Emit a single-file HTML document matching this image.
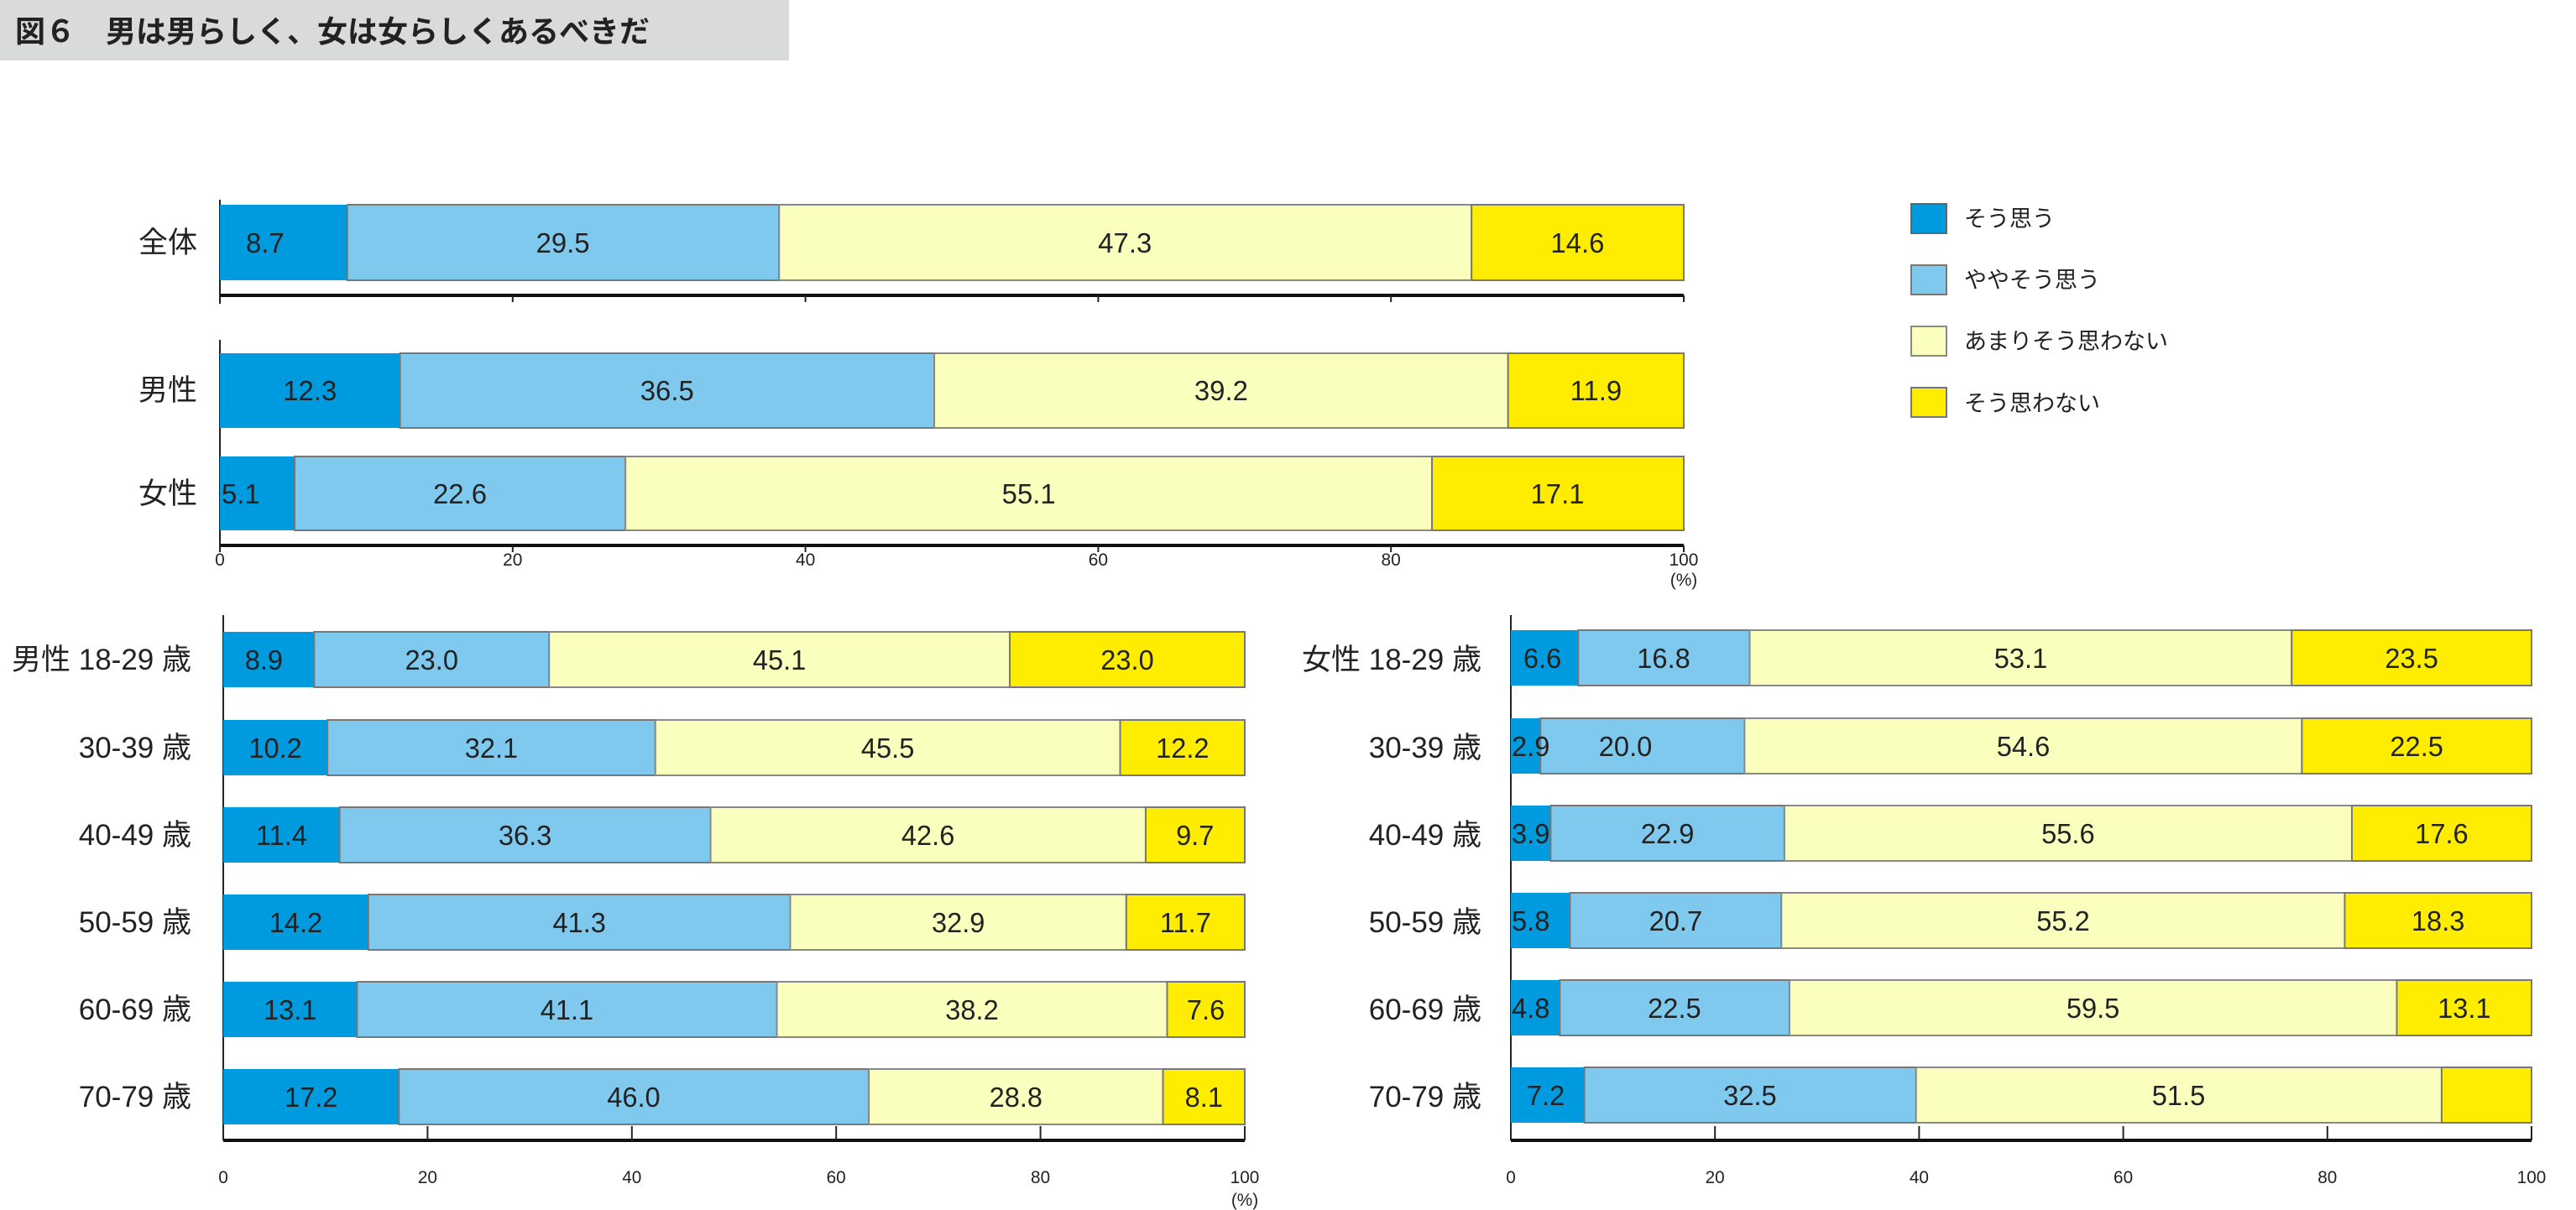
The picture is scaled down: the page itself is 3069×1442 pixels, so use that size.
<!DOCTYPE html>
<html><head><meta charset="utf-8"><style>
html,body{margin:0;padding:0;background:#fff;}
svg{display:block;font-family:"Liberation Sans","Noto Sans CJK JP",sans-serif;}
.v{font-size:33px;fill:#222;text-anchor:middle;}
.l{font-size:33px;fill:#222;text-anchor:start;}
.r{font-size:35px;fill:#222;text-anchor:end;}
.t{font-size:21px;fill:#222;text-anchor:middle;}
.g{font-size:27px;fill:#222;}
.b1{fill:#009ADE;}.b2{fill:#7FC8EE;stroke:#777;stroke-width:2;}.b3{fill:#FAFFBE;stroke:#888;stroke-width:2;}.b4{fill:#FFED00;stroke:#777;stroke-width:2;}
</style></head><body>
<svg width="3069" height="1442" viewBox="0 0 3069 1442" xmlns="http://www.w3.org/2000/svg">
<rect x="0" y="0" width="940" height="72" fill="#d9dada"/>
<text x="18" y="50" font-size="36" font-weight="bold" fill="#222">図６　男は男らしく、女は女らしくあるべきだ</text>

<!-- legend -->
<rect x="2277" y="243" width="42" height="35" class="b1" stroke="#666" stroke-width="2"/>
<rect x="2277" y="316" width="42" height="35" class="b2"/>
<rect x="2277" y="389" width="42" height="35" class="b3"/>
<rect x="2277" y="462" width="42" height="35" class="b4"/>
<text x="2340" y="270" class="g">そう思う</text>
<text x="2340" y="343" class="g">ややそう思う</text>
<text x="2340" y="416" class="g">あまりそう思わない</text>
<text x="2340" y="490" class="g">そう思わない</text>

<text x="235" y="301" class="r">全体</text>
<text x="235" y="477" class="r">男性</text>
<text x="235" y="600" class="r">女性</text>

<!-- top chart -->
<g transform="translate(262,0) scale(0.99657,1) translate(-264,0)">
<line x1="264" y1="238" x2="264" y2="362" stroke="#222" stroke-width="2"/>
<line x1="264" y1="405" x2="264" y2="650" stroke="#222" stroke-width="2"/>
<line x1="264" y1="352" x2="2014" y2="352" stroke="#111" stroke-width="4"/>
<line x1="264" y1="650" x2="2014" y2="650" stroke="#111" stroke-width="4"/>
<g stroke="#222" stroke-width="2">
<line x1="614" y1="352" x2="614" y2="360"/><line x1="964" y1="352" x2="964" y2="360"/><line x1="1314" y1="352" x2="1314" y2="360"/><line x1="1664" y1="352" x2="1664" y2="360"/><line x1="2014" y1="352" x2="2014" y2="360"/>
<line x1="264" y1="650" x2="264" y2="658"/><line x1="614" y1="650" x2="614" y2="658"/><line x1="964" y1="650" x2="964" y2="658"/><line x1="1314" y1="650" x2="1314" y2="658"/><line x1="1664" y1="650" x2="1664" y2="658"/><line x1="2014" y1="650" x2="2014" y2="658"/>
</g>
<text x="264" y="674" class="t">0</text><text x="614" y="674" class="t">20</text><text x="964" y="674" class="t">40</text><text x="1314" y="674" class="t">60</text><text x="1664" y="674" class="t">80</text><text x="2014" y="674" class="t">100</text>
<text x="2014" y="698" class="t" font-size="18">(%)</text>

<rect x="264" y="244" width="152.3" height="90" class="b1"/><rect x="416.3" y="244" width="516.2" height="90" class="b2"/><rect x="932.5" y="244" width="827.8" height="90" class="b3"/><rect x="1760.3" y="244" width="253.7" height="90" class="b4"/>
<text x="318" y="301" class="v">8.7</text><text x="674" y="301" class="v">29.5</text><text x="1346" y="301" class="v">47.3</text><text x="1887" y="301" class="v">14.6</text>

<rect x="264" y="421" width="215.3" height="89" class="b1"/><rect x="479.3" y="421" width="638.7" height="89" class="b2"/><rect x="1118" y="421" width="686" height="89" class="b3"/><rect x="1804" y="421" width="210" height="89" class="b4"/>
<text x="371.6" y="477" class="v">12.3</text><text x="798.6" y="477" class="v">36.5</text><text x="1461" y="477" class="v">39.2</text><text x="1909" y="477" class="v">11.9</text>

<rect x="264" y="544" width="89.3" height="88" class="b1"/><rect x="353.3" y="544" width="395.5" height="88" class="b2"/><rect x="748.8" y="544" width="964.2" height="88" class="b3"/><rect x="1713" y="544" width="301" height="88" class="b4"/>
<text x="266" y="600" class="l">5.1</text><text x="551" y="600" class="v">22.6</text><text x="1231" y="600" class="v">55.1</text><text x="1863" y="600" class="v">17.1</text>
</g>

<!-- bottom left -->
<text x="228" y="798" class="r">男性 18-29 歳</text>
<text x="228" y="903" class="r">30-39 歳</text>
<text x="228" y="1007" class="r">40-49 歳</text>
<text x="228" y="1111" class="r">50-59 歳</text>
<text x="228" y="1215" class="r">60-69 歳</text>
<text x="228" y="1319" class="r">70-79 歳</text>
<g transform="translate(266,0) scale(0.98782,1) translate(-269,0)">
<line x1="269" y1="733" x2="269" y2="1359" stroke="#222" stroke-width="2"/>
<line x1="269" y1="1359" x2="1501" y2="1359" stroke="#111" stroke-width="4"/>
<g stroke="#222" stroke-width="2">
<line x1="515.4" y1="1342" x2="515.4" y2="1359"/><line x1="761.8" y1="1342" x2="761.8" y2="1359"/><line x1="1008.2" y1="1342" x2="1008.2" y2="1359"/><line x1="1254.6" y1="1342" x2="1254.6" y2="1359"/><line x1="1501" y1="1342" x2="1501" y2="1359"/>
</g>
<text x="269" y="1410" class="t">0</text><text x="515.4" y="1410" class="t">20</text><text x="761.8" y="1410" class="t">40</text><text x="1008.2" y="1410" class="t">60</text><text x="1254.6" y="1410" class="t">80</text><text x="1501" y="1410" class="t">100</text>
<text x="1501" y="1437" class="t" font-size="18">(%)</text>

<rect x="269" y="753" width="109.6" height="66" class="b1"/><rect x="378.6" y="753" width="283.4" height="66" class="b2"/><rect x="662" y="753" width="555.6" height="66" class="b3"/><rect x="1217.6" y="753" width="283.4" height="66" class="b4"/>
<text x="318" y="798" class="v">8.9</text><text x="520.3" y="798" class="v">23.0</text><text x="939.8" y="798" class="v">45.1</text><text x="1359.3" y="798" class="v">23.0</text>

<rect x="269" y="858" width="125.7" height="66" class="b1"/><rect x="394.7" y="858" width="395.4" height="66" class="b2"/><rect x="790.1" y="858" width="560.6" height="66" class="b3"/><rect x="1350.7" y="858" width="150.3" height="66" class="b4"/>
<text x="331.8" y="903" class="v">10.2</text><text x="592.4" y="903" class="v">32.1</text><text x="1070.4" y="903" class="v">45.5</text><text x="1425.9" y="903" class="v">12.2</text>

<rect x="269" y="962" width="140.4" height="66" class="b1"/><rect x="409.4" y="962" width="447.3" height="66" class="b2"/><rect x="856.7" y="962" width="524.8" height="66" class="b3"/><rect x="1381.5" y="962" width="119.5" height="66" class="b4"/>
<text x="339.2" y="1007" class="v">11.4</text><text x="633" y="1007" class="v">36.3</text><text x="1119" y="1007" class="v">42.6</text><text x="1441" y="1007" class="v">9.7</text>

<rect x="269" y="1066" width="175" height="66" class="b1"/><rect x="444" y="1066" width="508.8" height="66" class="b2"/><rect x="952.8" y="1066" width="405.3" height="66" class="b3"/><rect x="1358.1" y="1066" width="142.9" height="66" class="b4"/>
<text x="356.5" y="1111" class="v">14.2</text><text x="698.4" y="1111" class="v">41.3</text><text x="1155.5" y="1111" class="v">32.9</text><text x="1429.5" y="1111" class="v">11.7</text>

<rect x="269" y="1170" width="161.4" height="66" class="b1"/><rect x="430.4" y="1170" width="506.3" height="66" class="b2"/><rect x="936.7" y="1170" width="470.7" height="66" class="b3"/><rect x="1407.4" y="1170" width="93.6" height="66" class="b4"/>
<text x="349.7" y="1215" class="v">13.1</text><text x="683.5" y="1215" class="v">41.1</text><text x="1172" y="1215" class="v">38.2</text><text x="1454" y="1215" class="v">7.6</text>

<rect x="269" y="1274" width="211.9" height="66" class="b1"/><rect x="480.9" y="1274" width="566.7" height="66" class="b2"/><rect x="1047.6" y="1274" width="354.8" height="66" class="b3"/><rect x="1402.4" y="1274" width="98.6" height="66" class="b4"/>
<text x="375" y="1319" class="v">17.2</text><text x="764" y="1319" class="v">46.0</text><text x="1225" y="1319" class="v">28.8</text><text x="1451.7" y="1319" class="v">8.1</text>
</g>

<!-- bottom right -->
<text x="1765" y="798" class="r">女性 18-29 歳</text>
<text x="1765" y="903" class="r">30-39 歳</text>
<text x="1765" y="1007" class="r">40-49 歳</text>
<text x="1765" y="1111" class="r">50-59 歳</text>
<text x="1765" y="1215" class="r">60-69 歳</text>
<text x="1765" y="1319" class="r">70-79 歳</text>
<g transform="translate(1800,0) scale(0.98942,1) translate(-1822,0)">
<line x1="1822" y1="733" x2="1822" y2="1359" stroke="#222" stroke-width="2"/>
<line x1="1822" y1="1359" x2="3051" y2="1359" stroke="#111" stroke-width="4"/>
<g stroke="#222" stroke-width="2">
<line x1="2067.8" y1="1342" x2="2067.8" y2="1359"/><line x1="2313.6" y1="1342" x2="2313.6" y2="1359"/><line x1="2559.4" y1="1342" x2="2559.4" y2="1359"/><line x1="2805.2" y1="1342" x2="2805.2" y2="1359"/><line x1="3051" y1="1342" x2="3051" y2="1359"/>
</g>
<text x="1822" y="1410" class="t">0</text><text x="2067.8" y="1410" class="t">20</text><text x="2313.6" y="1410" class="t">40</text><text x="2559.4" y="1410" class="t">60</text><text x="2805.2" y="1410" class="t">80</text><text x="3051" y="1410" class="t">100</text>

<rect x="1822" y="751" width="81.1" height="66" class="b1"/><rect x="1903.1" y="751" width="206.5" height="66" class="b2"/><rect x="2109.6" y="751" width="652.6" height="66" class="b3"/><rect x="2762.2" y="751" width="288.8" height="66" class="b4"/>
<text x="1860" y="796" class="v">6.6</text><text x="2006" y="796" class="v">16.8</text><text x="2436" y="796" class="v">53.1</text><text x="2906.6" y="796" class="v">23.5</text>

<rect x="1822" y="856" width="35.6" height="66" class="b1"/><rect x="1857.6" y="856" width="245.8" height="66" class="b2"/><rect x="2103.4" y="856" width="671.1" height="66" class="b3"/><rect x="2774.5" y="856" width="276.5" height="66" class="b4"/>
<text x="1823" y="901" class="l">2.9</text><text x="1960" y="901" class="v">20.0</text><text x="2439" y="901" class="v">54.6</text><text x="2912.7" y="901" class="v">22.5</text>

<rect x="1822" y="960" width="47.9" height="66" class="b1"/><rect x="1869.9" y="960" width="281.5" height="66" class="b2"/><rect x="2151.4" y="960" width="683.3" height="66" class="b3"/><rect x="2834.7" y="960" width="216.3" height="66" class="b4"/>
<text x="1823" y="1005" class="l">3.9</text><text x="2010.6" y="1005" class="v">22.9</text><text x="2493" y="1005" class="v">55.6</text><text x="2942.8" y="1005" class="v">17.6</text>

<rect x="1822" y="1064" width="71.3" height="66" class="b1"/><rect x="1893.3" y="1064" width="254.4" height="66" class="b2"/><rect x="2147.7" y="1064" width="678.4" height="66" class="b3"/><rect x="2826.1" y="1064" width="224.9" height="66" class="b4"/>
<text x="1823" y="1109" class="l">5.8</text><text x="2020.5" y="1109" class="v">20.7</text><text x="2487" y="1109" class="v">55.2</text><text x="2938.5" y="1109" class="v">18.3</text>

<rect x="1822" y="1168" width="59" height="66" class="b1"/><rect x="1881" y="1168" width="276.5" height="66" class="b2"/><rect x="2157.5" y="1168" width="731.3" height="66" class="b3"/><rect x="2888.8" y="1168" width="162.2" height="66" class="b4"/>
<text x="1823" y="1213" class="l">4.8</text><text x="2019" y="1213" class="v">22.5</text><text x="2523" y="1213" class="v">59.5</text><text x="2970" y="1213" class="v">13.1</text>

<rect x="1822" y="1272" width="88.5" height="66" class="b1"/><rect x="1910.5" y="1272" width="399.4" height="66" class="b2"/><rect x="2309.9" y="1272" width="632.9" height="66" class="b3"/><rect x="2942.8" y="1272" width="108.2" height="66" class="b4"/>
<text x="1864" y="1317" class="v">7.2</text><text x="2110" y="1317" class="v">32.5</text><text x="2626" y="1317" class="v">51.5</text>
</g>
</svg>
</body></html>
